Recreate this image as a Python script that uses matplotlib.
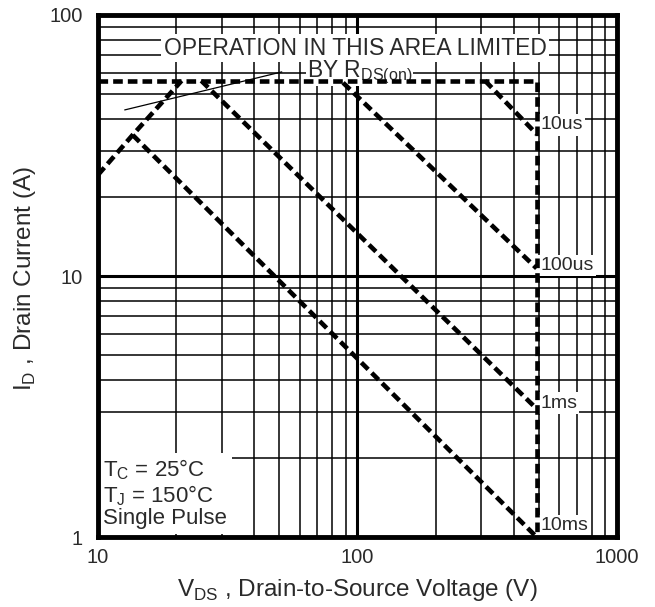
import matplotlib.pyplot as plt
import numpy as np

# curve points (V, A)
limit_v = [10, 490, 490]
limit_i = [56, 56, 1.0]
rds_v = [10, 13.6, 21]
rds_i = [24.4, 34.7, 56]
v_10us = [310, 490]
i_10us = [56, 35]
v_100us = [88, 490]
i_100us = [55, 10.7]
v_1ms = [25, 490]
i_1ms = [56, 3.1]
v_10ms = [13.6, 490]
i_10ms = [34.7, 1.0]
arrow_v = [12.7, 51]
arrow_i = [43.3, 60.5]

labels = ["10us", "100us", "1ms", "10ms"]
label_i = [37.9, 11.0, 3.26, 1.11]

plt.rcParams['font.family'] = ['Liberation Sans', 'DejaVu Sans']
txt = '#2a2a2a'

fig = plt.figure(figsize=(6.55, 6.07), dpi=100)
ax = fig.add_axes([0.1496, 0.1153, 0.7924, 0.86])
ax.set_xscale('log')
ax.set_yscale('log')
ax.set_xlim(10, 1000)
ax.set_ylim(1, 100)

# grid
for dec in (10, 100):
    for k in range(2, 10):
        ax.axvline(dec * k, color='k', lw=1.1, zorder=1)
for dec in (1, 10):
    for k in range(2, 10):
        ax.axhline(dec * k, color='k', lw=1.1, zorder=1)
ax.axvline(100, color='k', lw=2.2, zorder=1)
ax.axhline(10, color='k', lw=2.2, zorder=1)

for s in ax.spines.values():
    s.set_linewidth(3.5)
ax.tick_params(which='both', length=0, labelsize=14.5, colors=txt)
ax.tick_params(axis='x', pad=8)
ax.tick_params(axis='y', pad=11)
ax.set_xticks([10, 100, 1000])
ax.set_xticklabels(['10', '100', '1000'])
ax.set_yticks([1, 10, 100])
ax.set_yticklabels(['1', '10', '100'])
ax.minorticks_off()

ax.set_xlabel('V$_{\\mathregular{DS}}$ , Drain-to-Source Voltage (V)', fontsize=17.5, color=txt,
              va='center')
ax.set_ylabel('I$_{\\mathregular{D}}$ , Drain Current (A)', fontsize=17.5, color=txt,
              va='center')
ax.xaxis.set_label_coords(0.5, -0.1015)
ax.yaxis.set_label_coords(-0.1407, 0.496)

dash = dict(color='k', lw=3.3, dashes=(2.1, 1.1), zorder=4, solid_capstyle='butt')
for v, i in [(limit_v, limit_i), (rds_v, rds_i), (v_10us, i_10us),
             (v_100us, i_100us), (v_1ms, i_1ms), (v_10ms, i_10ms)]:
    ax.plot(v, i, **dash)
ax.plot(arrow_v, arrow_i, color='k', lw=0.9, zorder=4)

box = dict(facecolor='white', edgecolor='none', pad=1.5)
for lab, y in zip(labels, label_i):
    ax.text(506, y, lab, fontsize=14, color=txt, va='center', ha='left',
            bbox=box, zorder=2)

ax.text(98, 74.7, 'OPERATION IN THIS AREA LIMITED', fontsize=16.5, color=txt,
        ha='center', va='center', zorder=2,
        bbox=dict(facecolor='white', edgecolor='none', pad=2))
ax.text(102, 60.5, 'BY R$_{\\mathregular{DS(on)}}$', fontsize=16.5, color=txt,
        ha='center', va='center', zorder=2,
        bbox=dict(facecolor='white', edgecolor='none', pad=0.5))

ax.text(10.5, 1.07, 'T$_{\\mathregular{C}}$ = 25°C\nT$_{\\mathregular{J}}$ = 150°C\nSingle Pulse',
        fontsize=16, color=txt, ha='left', va='bottom', linespacing=1.05,
        zorder=2, bbox=dict(facecolor='white', edgecolor='none', pad=3))

fig.savefig('out.png', dpi=100)
